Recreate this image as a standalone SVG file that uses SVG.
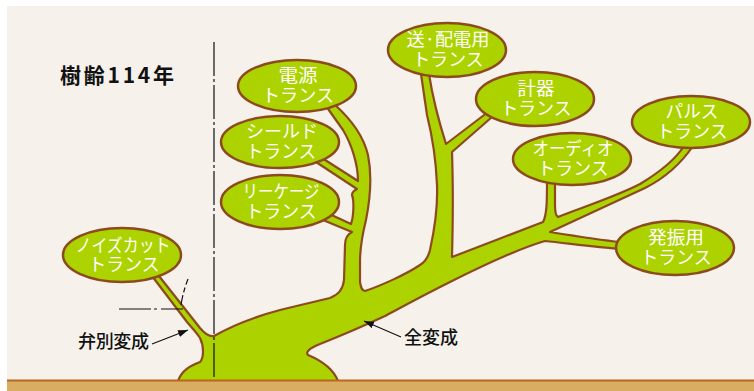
<svg xmlns="http://www.w3.org/2000/svg" width="754" height="391" viewBox="0 0 754 391">
<style>
  .bg { fill: #f6f1eb; }
  .tree { fill: #acd300; stroke: #8c4b1e; stroke-width: 2.2; stroke-linejoin: round; }
  .node ellipse { fill: #acd300; stroke: #8c4b1e; stroke-width: 2.5; }
  .node text { font-family: "Noto Sans CJK JP", "Noto Sans", sans-serif; font-size: 18px; fill: #ffffff; text-anchor: middle; }
  .guide { fill: none; stroke: #111111; stroke-width: 1.2; }
  .label { font-family: "Noto Sans CJK JP", "Noto Sans", sans-serif; font-size: 18px; fill: #111111; font-weight: 500; }
  .title { font-family: "Noto Sans CJK JP", "Noto Sans", sans-serif; font-size: 21px; fill: #111111; font-weight: 700; }
  .pointer { stroke: #111111; stroke-width: 1.2; fill: none; }
</style>
<defs>
  <marker id="head" markerUnits="userSpaceOnUse" markerWidth="11" markerHeight="8" refX="10" refY="3.5" orient="auto">
    <path d="M0,0 L10,3.5 L0,7 Z" fill="#111111"/>
  </marker>
</defs>

<!-- paper -->
<rect x="0" y="0" width="754" height="391" fill="#ffffff"/>
<rect class="bg" x="7" y="6" width="747" height="385"/>

<!-- trunk and branches -->
<g id="connectors">
  <path class="tree" d="M178,381 C182,370 190,366 200,362 C204,358 204,346 200,338 C197,333 192,328 187,322 L152,276 L159,276 L200,328 C205,334 209,337 214,336
    C228,328 250,318 280,310 C300,305 318,301 330,298 C338,295 343,290 344,280 L345,245 C345,238 348,234 352,232
    L318,218 L325,212 L351,224 C354,215 354,200 352,195 C352,192 355,190 357,189
    L316,162 L322,158 L358,181 C358,165 352,145 343,130 L326,106 L334,104
    C352,120 364,138 368,155 C372,175 370,200 366,220 C363,232 360,245 360,262 L360,282 C361,288 362,291 365,291
    C380,286 405,275 420,265 C425,262 428,258 430,250 C434,232 438,210 437,185 C436,160 432,135 427,115 L421,74 L429,74
    C433,100 440,125 446,144 L488,112 L492,117 L452,152 C453,180 453,220 452,257
    C480,246 515,233 543,222 C547,215 547,200 547,180 L555,180 L555,205 C555,212 556,216 558,217
    C580,208 615,197 640,184 C660,172 675,160 684,146 L693,146 C680,165 665,178 645,188 C615,202 580,218 550,232
    C575,236 600,240 620,242 L620,249 C595,247 565,243 545,241
    C520,248 490,262 450,282 C420,297 400,308 385,316 C370,323 345,334 320,344 C310,348 305,352 308,355
    C320,360 333,368 338,381 Z"/>
</g>

<!-- centre lines -->
<g id="guides">
  <line class="guide" x1="214" y1="42" x2="214" y2="380" stroke-dasharray="34 3 3 3"/>
  <line class="guide" x1="119" y1="309" x2="183" y2="309" stroke-dasharray="32 3 3 4"/>
  <path class="guide" d="M181,305 Q183,292 188,279" stroke-dasharray="10 3 5 3"/>
</g>

<!-- transformer types -->
<g id="node-noisecut" class="node">
  <ellipse cx="122" cy="255" rx="59" ry="27"/>
  <text><tspan x="123" y="251.5" textLength="95" lengthAdjust="spacingAndGlyphs">ノイズカット</tspan><tspan x="124" y="271" textLength="71" lengthAdjust="spacingAndGlyphs">トランス</tspan></text>
</g>
<g id="node-power" class="node">
  <ellipse cx="297" cy="86" rx="59" ry="26"/>
  <text><tspan x="298" y="82" textLength="39" lengthAdjust="spacingAndGlyphs">電源</tspan><tspan x="298" y="102" textLength="72" lengthAdjust="spacingAndGlyphs">トランス</tspan></text>
</g>
<g id="node-shield" class="node">
  <ellipse cx="280" cy="142" rx="59" ry="26"/>
  <text><tspan x="282" y="138" textLength="72" lengthAdjust="spacingAndGlyphs">シールド</tspan><tspan x="281" y="158" textLength="70" lengthAdjust="spacingAndGlyphs">トランス</tspan></text>
</g>
<g id="node-leakage" class="node">
  <ellipse cx="280" cy="202" rx="59" ry="27"/>
  <text><tspan x="281" y="198" textLength="77" lengthAdjust="spacingAndGlyphs">リーケージ</tspan><tspan x="281" y="218" textLength="71" lengthAdjust="spacingAndGlyphs">トランス</tspan></text>
</g>
<g id="node-distribution" class="node">
  <ellipse cx="447" cy="50" rx="59" ry="27"/>
  <text><tspan x="448" y="46" textLength="83" lengthAdjust="spacingAndGlyphs">送·配電用</tspan><tspan x="448" y="66" textLength="71" lengthAdjust="spacingAndGlyphs">トランス</tspan></text>
</g>
<g id="node-instrument" class="node">
  <ellipse cx="535" cy="99" rx="59" ry="27"/>
  <text><tspan x="536" y="95" textLength="37" lengthAdjust="spacingAndGlyphs">計器</tspan><tspan x="536" y="115" textLength="71" lengthAdjust="spacingAndGlyphs">トランス</tspan></text>
</g>
<g id="node-audio" class="node">
  <ellipse cx="572" cy="159" rx="59" ry="26"/>
  <text><tspan x="573" y="155" textLength="81" lengthAdjust="spacingAndGlyphs">オーディオ</tspan><tspan x="573" y="175" textLength="71" lengthAdjust="spacingAndGlyphs">トランス</tspan></text>
</g>
<g id="node-pulse" class="node">
  <ellipse cx="691" cy="122" rx="59" ry="26"/>
  <text><tspan x="692" y="118" textLength="53" lengthAdjust="spacingAndGlyphs">パルス</tspan><tspan x="692" y="138" textLength="71" lengthAdjust="spacingAndGlyphs">トランス</tspan></text>
</g>
<g id="node-oscillator" class="node">
  <ellipse cx="675" cy="248" rx="59" ry="27"/>
  <text><tspan x="676" y="244" textLength="56" lengthAdjust="spacingAndGlyphs">発振用</tspan><tspan x="676" y="264" textLength="71" lengthAdjust="spacingAndGlyphs">トランス</tspan></text>
</g>

<!-- ground -->
<g id="ground">
  <rect x="7" y="381" width="747" height="10" fill="#d9ad62"/>
  <line x1="7" y1="380.5" x2="754" y2="380.5" stroke="#b8681f" stroke-width="2"/>
</g>

<!-- annotations -->
<g id="labels">
  <text class="title" x="60" y="83" textLength="114" lengthAdjust="spacing">樹齢114年</text>
  <text class="label" x="78" y="348" textLength="71" lengthAdjust="spacing">弁別変成</text>
  <line class="pointer" x1="152" y1="344" x2="188" y2="330" marker-end="url(#head)"/>
  <text class="label" x="404" y="344" textLength="54" lengthAdjust="spacing">全変成</text>
  <line class="pointer" x1="401" y1="337" x2="364" y2="321" marker-end="url(#head)"/>
</g>
</svg>
